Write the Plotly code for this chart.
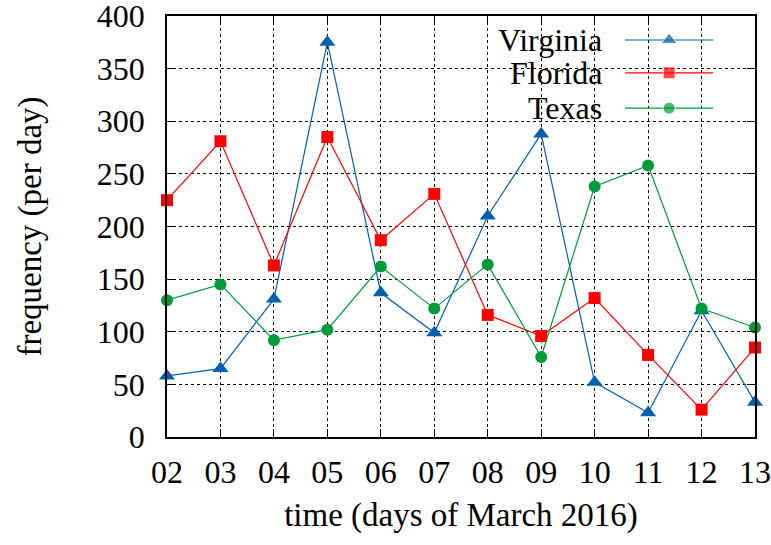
import plotly.graph_objects as go

# Daily frequency per state, March 2016
days = ["02", "03", "04", "05", "06", "07", "08", "09", "10", "11", "12", "13"]
virginia = [58, 65, 131, 375, 137, 99, 210, 288, 52, 23, 120, 33]
florida = [225, 281, 163, 285, 187, 231, 116, 96, 132, 78, 26, 85]
texas = [130, 145, 92, 102, 162, 122, 164, 76, 238, 258, 122, 104]
y_ticks = [0, 50, 100, 150, 200, 250, 300, 350, 400]

series = [
    ("Virginia", virginia, "#0060ad", "triangle-up", 14),
    ("Florida", florida, "#ff0000", "square", 12),
    ("Texas", texas, "#009a3a", "circle", 12),
]

FONT = "Liberation Serif"

fig = go.Figure()
for name, vals, color, symbol, size in series:
    fig.add_trace(go.Scatter(
        x=days, y=vals, name=name, mode="lines+markers",
        line=dict(color=color, width=1.2),
        marker=dict(symbol=symbol, size=size, color=color),
        cliponaxis=False, showlegend=False,
    ))

# Key: right-aligned labels followed by a line/marker sample
key_rows = [0.943, 0.865, 0.781]
for (name, vals, color, symbol, size), ky in zip(series, key_rows):
    fig.add_trace(go.Scatter(
        x=[0.779, 0.854, 0.929], y=[ky, ky, ky], xaxis="x2", yaxis="y2",
        mode="lines+markers", line=dict(color=color, width=1.2),
        marker=dict(symbol=symbol, size=[0, size, 0], color=color),
        cliponaxis=False, showlegend=False, hoverinfo="skip",
    ))
    fig.add_annotation(
        x=0.7415, y=ky, xref="paper", yref="paper", text=name,
        showarrow=False, xanchor="right", yanchor="middle", borderpad=0,
        font=dict(family=FONT, size=32, color="black"),
    )

# Opaque key background over the grid
fig.add_shape(type="rect", xref="paper", yref="paper",
              x0=0.464, x1=0.963, y0=0.739, y1=1.0,
              fillcolor="white", line=dict(width=0), layer="between")

axis_common = dict(
    showline=True, linecolor="black", linewidth=1.5, mirror="allticks",
    ticks="inside", ticklen=8, tickwidth=1, tickcolor="black",
    showgrid=True, gridcolor="black", gridwidth=1, griddash="dot",
    tickfont=dict(family=FONT, size=32, color="black"),
    zeroline=False, automargin=False, ticklabeloverflow="allow",
)

fig.update_layout(
    width=771, height=545,
    margin=dict(l=167, r=16, t=16, b=108),
    plot_bgcolor="white", paper_bgcolor="white",
    font=dict(family=FONT, color="black"),
    xaxis=dict(
        type="category", range=[0, len(days) - 1],
        tickvals=days, ticktext=days, ticklabelstandoff=6,
        title=dict(text="time (days of March 2016)", standoff=14,
                   font=dict(family=FONT, size=33, color="black")),
        **axis_common,
    ),
    yaxis=dict(
        range=[0, 400], tickvals=y_ticks, ticklabelstandoff=14,
        title=dict(text="frequency (per day)", standoff=45,
                   font=dict(family=FONT, size=33, color="black")),
        **axis_common,
    ),
    xaxis2=dict(overlaying="x", range=[0, 1], visible=False, fixedrange=True),
    yaxis2=dict(overlaying="y", range=[0, 1], visible=False, fixedrange=True),
)

fig.write_html("out.html")
